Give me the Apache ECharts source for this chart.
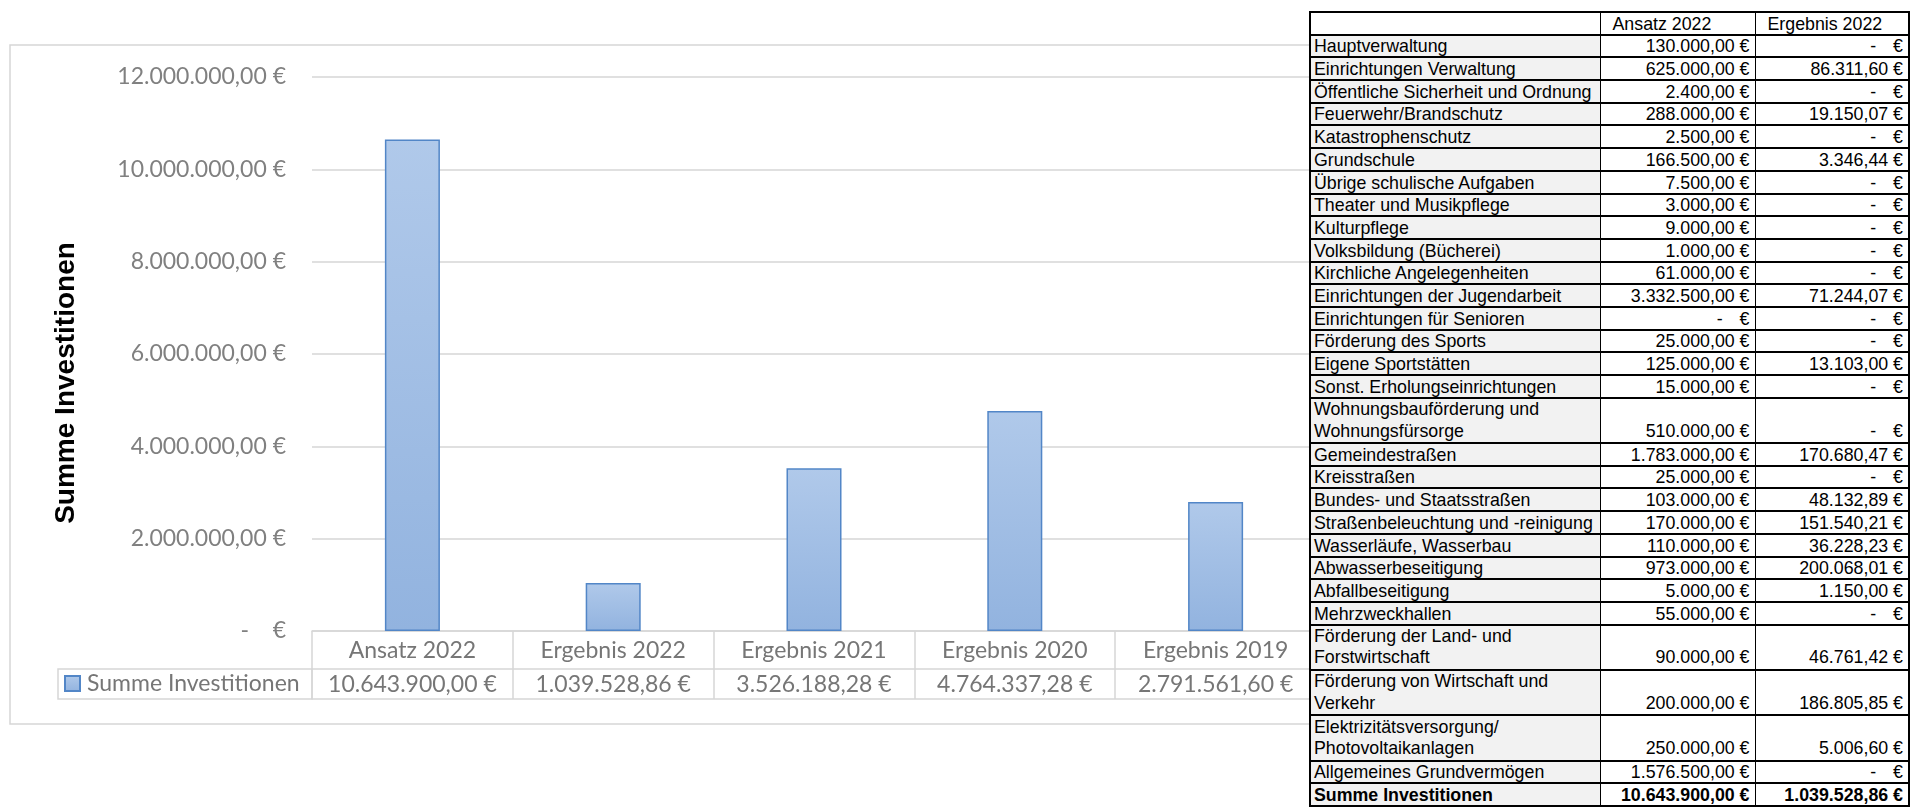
<!DOCTYPE html>
<html><head><meta charset="utf-8">
<script src="https://cdn.jsdelivr.net/npm/echarts@6/dist/echarts.min.js"></script>
<style>
html,body{margin:0;padding:0;background:#fff;width:1910px;height:811px;overflow:hidden;}
#chart{position:absolute;left:0;top:0;width:1910px;height:811px;}
#tbl{position:absolute;left:1309px;top:11px;border-collapse:collapse;table-layout:fixed;
  font-family:"Liberation Sans",Arial,sans-serif;font-size:17.8px;color:#000;background:#fff;
  border:2px solid #000;}
#tbl td{border:2px solid #000;border-left-width:1px;border-right-width:1px;padding:0 5px 0 3px;
  vertical-align:bottom;line-height:20px;overflow:hidden;white-space:nowrap;box-sizing:border-box;}
#tbl tr.dbl td{line-height:21.5px;}
#tbl td.lab{background:#f2f2f2;white-space:pre-line;}
#tbl td.num{text-align:right;background:#fff;}
#tbl td.hd{background:#fff;padding-left:12px;}
#tbl tr.tot td{font-weight:bold;}
</style>
</head><body>
<div id="chart"></div>
<table id="tbl"></table>
<script>
// ---------- chart data ----------
const seriesName = 'Summe Investitionen';
const categories = ['Ansatz 2022', 'Ergebnis 2022', 'Ergebnis 2021', 'Ergebnis 2020', 'Ergebnis 2019'];
const sumValues = [10643900.00, 1039528.86, 3526188.28, 4764337.28, 2791561.60];
const yMin = 0, yMax = 12000000, yStep = 2000000;
const axisTitle = 'Summe Investitionen';

// ---------- table data ----------
const tableHeaders = ['', 'Ansatz 2022', 'Ergebnis 2022'];
const tableLabels = [
  'Hauptverwaltung', 'Einrichtungen Verwaltung', 'Öffentliche Sicherheit und Ordnung',
  'Feuerwehr/Brandschutz', 'Katastrophenschutz', 'Grundschule', 'Übrige schulische Aufgaben',
  'Theater und Musikpflege', 'Kulturpflege', 'Volksbildung (Bücherei)', 'Kirchliche Angelegenheiten',
  'Einrichtungen der Jugendarbeit', 'Einrichtungen für Senioren', 'Förderung des Sports',
  'Eigene Sportstätten', 'Sonst. Erholungseinrichtungen', 'Wohnungsbauförderung und\nWohnungsfürsorge',
  'Gemeindestraßen', 'Kreisstraßen', 'Bundes- und Staatsstraßen', 'Straßenbeleuchtung und -reinigung',
  'Wasserläufe, Wasserbau', 'Abwasserbeseitigung', 'Abfallbeseitigung', 'Mehrzweckhallen',
  'Förderung der Land- und\nForstwirtschaft', 'Förderung von Wirtschaft und\nVerkehr',
  'Elektrizitätsversorgung/\nPhotovoltaikanlagen', 'Allgemeines Grundvermögen'
];
const tableAnsatz = [
  130000, 625000, 2400, 288000, 2500, 166500, 7500, 3000, 9000, 1000, 61000, 3332500, 0, 25000,
  125000, 15000, 510000, 1783000, 25000, 103000, 170000, 110000, 973000, 5000, 55000, 90000,
  200000, 250000, 1576500
];
const tableErgebnis = [
  0, 86311.60, 0, 19150.07, 0, 3346.44, 0, 0, 0, 0, 0, 71244.07, 0, 0,
  13103.00, 0, 0, 170680.47, 0, 48132.89, 151540.21, 36228.23, 200068.01, 1150.00, 0, 46761.42,
  186805.85, 5006.60, 0
];
const totalLabel = 'Summe Investitionen';
const totalAnsatz = 10643900.00;
const totalErgebnis = 1039528.86;

function fmtDE(v) {
  const parts = Math.abs(v).toFixed(2).split('.');
  const intPart = parts[0].replace(/\B(?=(\d{3})+(?!\d))/g, '.');
  return intPart + ',' + parts[1] + ' €';
}

// ---------- build table ----------
const ROW_H = 22.7;
const tbl = document.getElementById('tbl');
let html = '<colgroup><col style="width:290px"><col style="width:155px"><col style="width:154px"></colgroup>';
html += '<tr style="height:' + ROW_H + 'px"><td class="hd"></td><td class="hd">' + tableHeaders[1] +
        '</td><td class="hd">' + tableHeaders[2] + '</td></tr>';
function numCell(v) {
  if (v === 0) return '<td class="num"><span style="margin-right:17px">-</span>€</td>';
  return '<td class="num">' + fmtDE(v) + '</td>';
}
for (let i = 0; i < tableLabels.length; i++) {
  const lines = tableLabels[i].split('\n').length;
  html += '<tr class="' + (lines > 1 ? 'dbl' : '') + '" style="height:' + (ROW_H * lines) + 'px"><td class="lab">' +
          tableLabels[i] + '</td>' + numCell(tableAnsatz[i]) + numCell(tableErgebnis[i]) + '</tr>';
}
html += '<tr class="tot" style="height:' + ROW_H + 'px"><td class="lab">' + totalLabel + '</td>' +
        numCell(totalAnsatz) + numCell(totalErgebnis) + '</tr>';
tbl.innerHTML = html;

// ---------- chart ----------
const chart = echarts.init(document.getElementById('chart'), null, {renderer: 'canvas'});
const gridLine = '#d6d6d6';
const txtGray = '#767676';
const FS = 23;
const barStyle = {
  color: new echarts.graphic.LinearGradient(0, 0, 0, 1, [
    {offset: 0, color: '#b0c9ea'}, {offset: 1, color: '#92b3df'}
  ]),
  borderColor: '#5286c7',
  borderWidth: 1.5
};
const option = {
  animation: false,
  backgroundColor: '#fff',
  textStyle: {fontFamily: 'Lato'},
  grid: {left: 312, right: 594, top: 77, bottom: 180, containLabel: false},
  legend: {
    show: true, left: 64, top: 672, padding: 0, itemWidth: 15, itemHeight: 15, icon: 'rect',
    data: [seriesName],
    textStyle: {fontFamily: 'Lato', fontSize: FS, color: txtGray, padding: [0, 0, 0, 2]}
  },
  xAxis: [
    {
      type: 'category', data: categories, position: 'bottom',
      axisLine: {show: true, lineStyle: {color: gridLine, width: 1.5}},
      axisTick: {show: true, length: 68, interval: 0, lineStyle: {color: gridLine, width: 1.5}},
      axisLabel: {interval: 0, margin: 8, fontSize: FS, color: txtGray, fontFamily: 'Lato'},
      splitLine: {show: false}
    },
    {
      type: 'category', data: categories, position: 'bottom', offset: 38,
      axisLine: {show: true, lineStyle: {color: gridLine, width: 1.5}},
      axisTick: {show: false},
      axisLabel: {interval: 0, margin: 4, fontSize: FS, color: txtGray, fontFamily: 'Lato',
        formatter: function (v, idx) { return fmtDE(sumValues[idx]); }},
      splitLine: {show: false}
    },
    {
      type: 'category', data: categories, position: 'bottom', offset: 68,
      axisLine: {show: true, lineStyle: {color: gridLine, width: 1.5}},
      axisTick: {show: false}, axisLabel: {show: false}, splitLine: {show: false}
    }
  ],
  yAxis: {
    type: 'value', min: yMin, max: yMax, interval: yStep,
    axisLine: {show: false}, axisTick: {show: false},
    splitLine: {show: true, lineStyle: {color: gridLine, width: 1.5}},
    axisLabel: {margin: 26, fontSize: FS, color: '#808080', fontFamily: 'Lato',
      formatter: function (v) { return v === 0 ? '-    €' : fmtDE(v); }}
  },
  series: [{
    type: 'bar', name: seriesName, data: sumValues, xAxisIndex: 0,
    barWidth: '27.4%', itemStyle: barStyle
  }],
  graphic: [
    {type: 'rect', z: -10, shape: {x: 10, y: 45, width: 1330, height: 679},
     style: {fill: 'none', stroke: gridLine, lineWidth: 1.5}},
    {type: 'rect', shape: {x: 58, y: 669, width: 254, height: 30},
     style: {fill: 'none', stroke: gridLine, lineWidth: 1.5}},
    {type: 'text', x: 66, y: 383, rotation: Math.PI / 2,
     style: {text: axisTitle, fontSize: 28, fontWeight: 'bold', fontFamily: 'Liberation Sans',
       fill: '#000', align: 'center', verticalAlign: 'middle'}}
  ]
};
chart.setOption(option);
</script>
</body></html>
